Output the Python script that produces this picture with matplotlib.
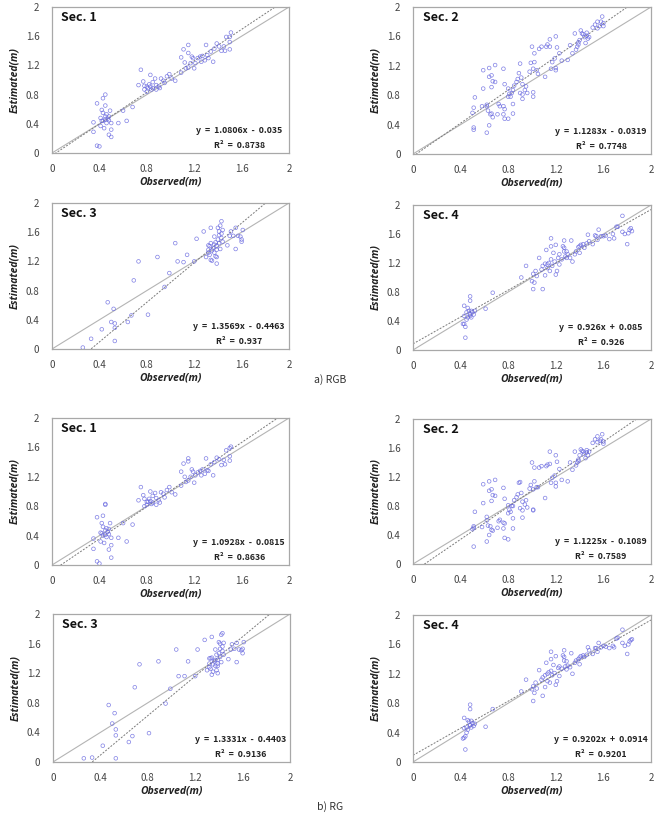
import numpy as np
import matplotlib
matplotlib.use('Agg')
import matplotlib.pyplot as plt

plt.rcParams['font.family'] = ['Noto Sans CJK KR', 'DejaVu Sans']

W, H = 659, 815

# observed heights (shared by RGB and RG estimates)
sec1_obs = [0.38, 0.40, 0.35, 0.35, 0.38, 0.43, 0.45, 0.45, 0.42, 0.43, 0.46, 0.48, 0.49, 0.45, 0.42, 0.41,
            0.46, 0.50, 0.50, 0.48, 0.50, 0.44, 0.41, 0.47, 0.45, 0.43, 0.56, 0.60, 0.63, 0.68, 0.48,
            0.75, 0.73, 0.77, 0.78, 0.80, 0.81, 0.83, 0.83, 0.87, 0.84, 0.85, 0.88, 0.90, 0.92, 0.94, 0.97,
            0.99, 1.01, 1.04, 0.80, 0.82, 0.91, 0.88, 0.78, 0.85, 0.95,
            1.09, 1.11, 1.15, 1.15, 1.12, 1.13, 1.15, 1.17, 1.09, 1.19, 1.21, 1.23, 1.26, 1.27, 1.29, 1.30,
            1.31, 1.32, 1.34, 1.36, 1.37, 1.39, 1.41, 1.43, 1.45, 1.47, 1.50, 1.51, 1.50, 1.50, 1.46, 1.25,
            1.18, 1.20]
sec1_rgb = [0.10, 0.09, 0.29, 0.42, 0.68, 0.75, 0.80, 0.65, 0.59, 0.55, 0.53, 0.50, 0.58, 0.46, 0.44, 0.37,
            0.41, 0.41, 0.32, 0.25, 0.22, 0.34, 0.48, 0.47, 0.50, 0.44, 0.41, 0.58, 0.44, 0.63, 0.45,
            1.14, 0.93, 0.98, 0.87, 0.84, 0.89, 0.91, 1.07, 1.02, 0.87, 0.89, 0.93, 0.91, 1.02, 0.99, 1.05,
            1.08, 1.02, 0.99, 0.91, 0.94, 0.89, 0.87, 0.92, 0.97, 0.96,
            1.31, 1.42, 1.48, 1.37, 1.24, 1.16, 1.17, 1.23, 1.10, 1.30, 1.23, 1.30, 1.25, 1.33, 1.27, 1.48,
            1.34, 1.30, 1.39, 1.25, 1.43, 1.50, 1.46, 1.40, 1.46, 1.59, 1.59, 1.65, 1.52, 1.42, 1.40, 1.32,
            1.32, 1.16]
sec1_rg = [0.05, 0.02, 0.22, 0.36, 0.65, 0.67, 0.83, 0.82, 0.57, 0.52, 0.50, 0.49, 0.57, 0.41, 0.43, 0.32,
           0.38, 0.37, 0.27, 0.21, 0.10, 0.30, 0.44, 0.45, 0.47, 0.40, 0.37, 0.57, 0.32, 0.55, 0.42,
           1.06, 0.88, 0.95, 0.80, 0.82, 0.86, 0.87, 1.00, 0.98, 0.83, 0.85, 0.91, 0.88, 0.99, 0.97, 1.02,
           1.06, 0.99, 0.96, 0.86, 0.90, 0.85, 0.82, 0.90, 0.94, 0.92,
           1.27, 1.38, 1.45, 1.41, 1.20, 1.13, 1.15, 1.20, 1.08, 1.27, 1.22, 1.26, 1.22, 1.30, 1.24, 1.45,
           1.29, 1.28, 1.37, 1.22, 1.40, 1.46, 1.44, 1.36, 1.43, 1.56, 1.59, 1.61, 1.48, 1.42, 1.37, 1.28,
           1.30, 1.12]

sec2_obs = [0.51, 0.51, 0.62, 0.64, 0.52, 0.51, 0.50, 0.58, 0.62, 0.63, 0.65, 0.67, 0.71, 0.73, 0.76, 0.77, 0.76, 0.77, 0.80, 0.84,
            0.59, 0.64, 0.69, 0.64, 0.66, 0.67, 0.59, 0.66, 0.69, 0.76, 0.77, 0.80, 0.81, 0.82, 0.83, 0.80, 0.84, 0.85, 0.87, 0.88,
            0.89, 0.90, 0.91, 0.90, 0.92, 0.92, 0.94, 0.95, 0.96, 0.98, 1.01, 1.01, 1.01, 1.02, 1.04, 1.05, 1.00, 1.02, 1.06, 1.08,
            1.11, 1.12, 1.13, 1.15, 1.15, 1.16, 1.17, 1.19, 1.20, 1.20, 1.20, 1.21, 1.23, 1.25, 1.30, 1.32, 1.34, 1.36, 1.37, 1.38,
            1.39, 1.39, 1.40, 1.41, 1.42, 1.43, 1.44, 1.45, 1.46, 1.46, 1.47, 1.48, 1.51, 1.53, 1.55, 1.57, 1.58, 1.59, 1.60, 1.60,
            1.55, 0.66, 0.62, 0.72, 0.84, 0.92, 0.99]
sec2_rgb = [0.36, 0.33, 0.29, 0.39, 0.77, 0.63, 0.56, 0.65, 0.65, 0.59, 0.54, 0.50, 0.54, 0.65, 0.65, 0.61, 0.54, 0.48, 0.48, 0.55,
            1.14, 1.17, 1.21, 1.05, 1.07, 0.99, 0.89, 0.91, 0.98, 1.16, 0.95, 0.89, 0.82, 0.78, 0.83, 0.78, 0.87, 0.93, 0.98, 1.02,
            1.10, 1.23, 1.04, 0.83, 0.81, 0.75, 0.87, 0.92, 0.83, 1.12, 1.16, 0.84, 0.78, 1.25, 1.14, 1.09, 1.46, 1.37, 1.43, 1.46,
            1.05, 1.46, 1.49, 1.56, 1.46, 1.16, 1.25, 1.30, 1.60, 1.14, 1.17, 1.45, 1.37, 1.27, 1.28, 1.48, 1.37, 1.64, 1.42, 1.46,
            1.52, 1.49, 1.55, 1.68, 1.64, 1.63, 1.59, 1.51, 1.61, 1.65, 1.57, 1.59, 1.72, 1.76, 1.71, 1.74, 1.80, 1.87, 1.74, 1.78,
            1.80, 0.55, 0.67, 0.68, 0.68, 0.95, 1.24]
sec2_rg = [0.24, 0.50, 0.31, 0.40, 0.72, 0.52, 0.48, 0.51, 0.60, 0.53, 0.52, 0.46, 0.50, 0.61, 0.57, 0.56, 0.49, 0.36, 0.34, 0.49,
           1.10, 1.14, 1.16, 1.01, 1.03, 0.95, 0.84, 0.87, 0.94, 1.05, 0.90, 0.81, 0.75, 0.72, 0.80, 0.70, 0.80, 0.88, 0.92, 0.96,
           1.12, 1.13, 0.98, 0.77, 0.74, 0.64, 0.82, 0.88, 0.78, 1.04, 1.03, 0.75, 0.74, 1.14, 1.06, 1.06, 1.40, 1.33, 1.33, 1.35,
           0.91, 1.35, 1.37, 1.55, 1.38, 1.12, 1.19, 1.22, 1.50, 1.07, 1.12, 1.41, 1.31, 1.16, 1.14, 1.40, 1.30, 1.55, 1.36, 1.40,
           1.44, 1.42, 1.50, 1.58, 1.56, 1.55, 1.52, 1.46, 1.54, 1.57, 1.50, 1.55, 1.67, 1.72, 1.68, 1.70, 1.72, 1.79, 1.69, 1.66,
           1.76, 0.47, 0.65, 0.59, 0.63, 0.86, 1.09]

sec3_obs = [0.26, 0.33, 0.42, 0.53, 0.50, 0.53, 0.53, 0.47, 0.52, 0.64, 0.67, 0.81, 0.69, 0.73, 0.95, 0.99, 0.89, 1.04, 1.06, 1.11,
            1.14, 1.20, 1.22, 1.28, 1.30, 1.32, 1.32, 1.33, 1.33, 1.34, 1.34, 1.35, 1.36, 1.37, 1.37, 1.38, 1.38, 1.39, 1.39, 1.39,
            1.40, 1.41, 1.41, 1.41, 1.42, 1.43, 1.43, 1.43, 1.44, 1.34, 1.40, 1.37, 1.39, 1.35, 1.48, 1.51, 1.53, 1.55, 1.55, 1.57,
            1.59, 1.60, 1.60, 1.61, 1.50, 1.44, 1.42, 1.32]
sec3_rgb = [0.02, 0.14, 0.27, 0.11, 0.37, 0.35, 0.29, 0.64, 0.55, 0.37, 0.46, 0.47, 0.94, 1.20, 0.85, 1.04, 1.26, 1.45, 1.20, 1.19,
            1.29, 1.20, 1.51, 1.61, 1.26, 1.36, 1.32, 1.41, 1.29, 1.22, 1.45, 1.35, 1.38, 1.43, 1.32, 1.46, 1.27, 1.17, 1.36, 1.41,
            1.50, 1.56, 1.45, 1.61, 1.69, 1.75, 1.52, 1.58, 1.63, 1.66, 1.66, 1.54, 1.26, 1.21, 1.42, 1.61, 1.55, 1.66, 1.37, 1.55,
            1.54, 1.50, 1.47, 1.63, 1.55, 1.47, 1.37, 1.42]
sec3_rg = [0.05, 0.06, 0.22, 0.05, 0.52, 0.44, 0.36, 0.77, 0.66, 0.27, 0.35, 0.39, 1.01, 1.32, 0.79, 0.99, 1.36, 1.52, 1.16, 1.16,
           1.36, 1.16, 1.52, 1.65, 1.24, 1.33, 1.28, 1.40, 1.26, 1.18, 1.41, 1.32, 1.36, 1.38, 1.30, 1.45, 1.24, 1.20, 1.33, 1.38,
           1.47, 1.53, 1.42, 1.60, 1.72, 1.74, 1.50, 1.56, 1.61, 1.69, 1.62, 1.52, 1.30, 1.22, 1.39, 1.59, 1.53, 1.61, 1.35, 1.52,
           1.51, 1.47, 1.53, 1.62, 1.52, 1.45, 1.35, 1.40]

sec4_obs = [0.44, 0.43, 0.44, 0.42, 0.43, 0.43, 0.48, 0.48, 0.46, 0.47, 0.48, 0.49, 0.50, 0.51, 0.46, 0.45, 0.49, 0.48, 0.52, 0.45, 0.61, 0.67,
            0.91, 0.95, 1.00, 1.01, 1.02, 1.01, 1.03, 1.04, 1.06, 1.09, 1.08, 1.09, 1.11, 1.11, 1.12, 1.13, 1.13, 1.14, 1.15, 1.16,
            1.16, 1.17, 1.18, 1.19, 1.20, 1.21, 1.22, 1.23, 1.23, 1.25, 1.26, 1.27, 1.27, 1.27, 1.28, 1.29, 1.30, 1.32, 1.33, 1.34,
            1.36, 1.37, 1.39, 1.40, 1.41, 1.43, 1.44, 1.46, 1.47, 1.48, 1.51, 1.53, 1.54, 1.55, 1.56, 1.58, 1.60, 1.62, 1.65, 1.68,
            1.69, 1.71, 1.72, 1.76, 1.76, 1.78, 1.80, 1.81, 1.82, 1.83, 1.84, 1.40, 1.29, 1.20, 1.16]
sec4_rgb = [0.17, 0.36, 0.32, 0.36, 0.47, 0.61, 0.68, 0.74, 0.58, 0.54, 0.49, 0.54, 0.52, 0.49, 0.45, 0.42, 0.45, 0.47, 0.54, 0.52, 0.57, 0.79,
            1.00, 1.16, 0.95, 0.84, 0.93, 1.05, 1.09, 1.02, 1.27, 0.84, 1.11, 1.16, 1.19, 1.03, 1.38, 1.18, 1.13, 1.20, 1.09, 1.43,
            1.25, 1.16, 1.34, 1.22, 1.04, 1.09, 1.27, 1.18, 1.32, 1.25, 1.43, 1.41, 1.51, 1.36, 1.29, 1.27, 1.32, 1.27, 1.51, 1.22,
            1.32, 1.36, 1.42, 1.43, 1.45, 1.46, 1.41, 1.47, 1.59, 1.50, 1.46, 1.58, 1.57, 1.52, 1.66, 1.57, 1.57, 1.58, 1.53, 1.60,
            1.54, 1.70, 1.70, 1.85, 1.63, 1.60, 1.46, 1.61, 1.66, 1.68, 1.64, 1.34, 1.36, 1.45, 1.54]
sec4_rg = [0.17, 0.33, 0.35, 0.32, 0.46, 0.60, 0.72, 0.78, 0.57, 0.55, 0.50, 0.56, 0.53, 0.49, 0.44, 0.40, 0.47, 0.50, 0.52, 0.47, 0.48, 0.72,
           0.96, 1.12, 0.99, 0.83, 0.94, 1.03, 1.08, 1.00, 1.25, 0.90, 1.12, 1.15, 1.18, 1.02, 1.35, 1.20, 1.10, 1.22, 1.08, 1.40,
           1.24, 1.18, 1.32, 1.21, 1.05, 1.10, 1.28, 1.17, 1.30, 1.27, 1.45, 1.43, 1.52, 1.38, 1.30, 1.26, 1.31, 1.29, 1.48, 1.20,
           1.35, 1.38, 1.40, 1.42, 1.44, 1.45, 1.43, 1.46, 1.56, 1.52, 1.47, 1.55, 1.55, 1.50, 1.62, 1.56, 1.58, 1.57, 1.55, 1.58,
           1.56, 1.68, 1.69, 1.80, 1.62, 1.58, 1.47, 1.60, 1.64, 1.66, 1.67, 1.33, 1.37, 1.44, 1.50]

# regression results as printed on the chart
slopes = [1.0806, 1.1283, 1.3569, 0.926, 1.0928, 1.1225, 1.3331, 0.9202]
intercepts = [-0.035, -0.0319, -0.4463, 0.085, -0.0815, -0.1089, -0.4403, 0.0914]
eq_labels = ['y = 1.0806x - 0.035', 'y = 1.1283x - 0.0319', 'y = 1.3569x - 0.4463', 'y = 0.926x + 0.085',
             'y = 1.0928x - 0.0815', 'y = 1.1225x - 0.1089', 'y = 1.3331x - 0.4403', 'y = 0.9202x + 0.0914']
r2_labels = ['R² = 0.8738', 'R² = 0.7748', 'R² = 0.937', 'R² = 0.926',
             'R² = 0.8636', 'R² = 0.7589', 'R² = 0.9136', 'R² = 0.9201']
sec_labels = ['Sec. 1', 'Sec. 2', 'Sec. 3', 'Sec. 4'] * 2
obs_sets = [sec1_obs, sec2_obs, sec3_obs, sec4_obs] * 2
est_sets = [sec1_rgb, sec2_rgb, sec3_rgb, sec4_rgb, sec1_rg, sec2_rg, sec3_rg, sec4_rg]
ticks = [0, 0.4, 0.8, 1.2, 1.6, 2]
tick_labels = ['0', '0.4', '0.8', '1.2', '1.6', '2']

# panel boxes in pixels: left, right, top, bottom
boxes = [(52, 289, 7, 153), (413, 651, 7, 154), (52, 289, 203, 349), (413, 651, 205, 350),
         (52, 289, 418, 565), (413, 651, 419, 564), (53, 290, 614, 762), (413, 651, 615, 762)]

fig = plt.figure(figsize=(W / 100, H / 100), dpi=100)

for i, (l, r, t, b) in enumerate(boxes):
    ax = fig.add_axes([l / W, 1 - b / H, (r - l) / W, (b - t) / H])
    ax.set_xlim(0, 2)
    ax.set_ylim(0, 2)
    xs = np.array([0, 2])
    ax.plot(xs, xs, color='#b4b4b4', lw=0.8, zorder=1)
    ax.plot(xs, slopes[i] * xs + intercepts[i], color='#7a7a7a', lw=0.7,
            linestyle=(0, (2, 1.5)), zorder=1)
    ax.scatter(obs_sets[i], est_sets[i], s=7, facecolors='none', edgecolors='#6a6ae0',
               linewidths=0.5, alpha=0.85, zorder=3)
    ax.set_xticks(ticks)
    ax.set_xticklabels(tick_labels)
    ax.set_yticks(ticks)
    ax.set_yticklabels(tick_labels)
    ax.tick_params(length=0, labelsize=7, labelcolor='#444444')
    ax.tick_params(axis='x', pad=8)
    ax.tick_params(axis='y', pad=9)
    for s in ax.spines.values():
        s.set_color('#a8a8a8')
        s.set_linewidth(0.9)
    ax.set_xlabel('Observed(m)', fontsize=7.5, fontweight='bold', style='italic',
                  family='Open Sans', color='#222222', labelpad=2)
    ax.set_ylabel('Estimated(m)', fontsize=7.5, fontweight='bold', style='italic',
                  family='Open Sans', color='#222222', labelpad=4)
    ax.text(0.04, 0.93, sec_labels[i], transform=ax.transAxes, fontsize=9,
            fontweight='bold', ha='left', va='center', color='#111111')
    ax.text(0.79, 0.155, eq_labels[i].replace(' ', '  '), transform=ax.transAxes, fontsize=6.3,
            fontweight='bold', ha='center', va='center', color='#222222')
    ax.text(0.79, 0.05, r2_labels[i].replace(' ', '  '), transform=ax.transAxes, fontsize=6.3,
            fontweight='bold', ha='center', va='center', color='#222222')

fig.text(330 / W, 1 - 380 / H, 'a) RGB', fontsize=7.5, ha='center', va='center', color='#333333')
fig.text(330 / W, 1 - 807 / H, 'b) RG', fontsize=7.5, ha='center', va='center', color='#333333')

fig.savefig('out.png', dpi=100)
